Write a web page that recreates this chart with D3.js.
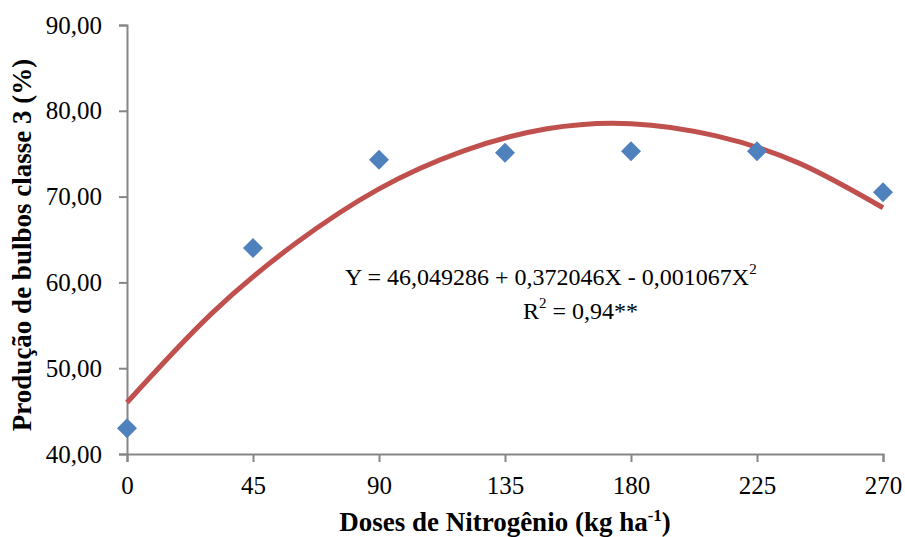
<!DOCTYPE html>
<html>
<head>
<meta charset="utf-8">
<script src="https://cdn.jsdelivr.net/npm/d3@7"></script>
<style>
  body { margin: 0; background: #fff; }
  text { font-family: "Liberation Serif", "Times New Roman", serif; fill: #000; }
</style>
</head>
<body>
<script>
// data
var doses = [0, 45, 90, 135, 180, 225, 270];
var producao = [43.0, 64.0, 74.3, 75.1, 75.3, 75.3, 70.5];
// trend line (quadratic fit) read at regular doses
var trendDoses = [0, 30, 60, 90, 120, 150, 180, 210, 240, 270];
var trendVals = [46.0, 56.3, 64.5, 70.9, 75.3, 77.9, 78.5, 77.1, 73.9, 68.7];
var yTicks = [40, 50, 60, 70, 80, 90];

// chart size
var margin = {top: 25, right: 22, bottom: 83, left: 127},
    width = 905 - margin.left - margin.right,
    height = 537 - margin.top - margin.bottom;

var xScale = d3.scaleLinear().domain([0, 270]).range([0, width]),
    yScale = d3.scaleLinear().domain([40, 90]).range([height, 0]);

var fmt = function(d) { return d3.format(".2f")(d).replace(".", ","); };

var svg = d3.select("body").append("svg")
    .attr("width", 905)
    .attr("height", 537);

svg.append("rect").attr("width", 905).attr("height", 537).attr("fill", "#fff");

var g = svg.append("g")
    .attr("transform", "translate(" + margin.left + "," + margin.top + ")");

// x axis
var xAxis = g.append("g")
    .attr("transform", "translate(0," + height + ")")
    .call(d3.axisBottom(xScale).tickValues(doses).tickSizeOuter(0).tickSize(8).tickPadding(14));
// y axis
var yAxis = g.append("g")
    .call(d3.axisLeft(yScale).tickValues(yTicks).tickFormat(fmt).tickSizeOuter(0).tickSize(8).tickPadding(17));

[xAxis, yAxis].forEach(function(a) {
    a.selectAll("path, line").attr("stroke", "#868686").attr("stroke-width", 2);
    a.selectAll("text").attr("font-size", 25).attr("font-family", "Liberation Serif").attr("fill", "#000");
});

// trend line
var line = d3.line()
    .x(function(d, i) { return xScale(trendDoses[i]); })
    .y(function(d) { return yScale(d); })
    .curve(d3.curveNatural);

g.append("path")
    .datum(trendVals)
    .attr("d", line)
    .attr("fill", "none")
    .attr("stroke", "#C0504D")
    .attr("stroke-width", 5);

// points
g.selectAll(".dot")
    .data(producao)
  .enter().append("path")
    .attr("class", "dot")
    .attr("d", d3.symbol().type(d3.symbolSquare).size(200))
    .attr("transform", function(d, i) {
        return "translate(" + xScale(doses[i]) + "," + yScale(d) + ") rotate(45)";
    })
    .attr("fill", "#4F81BD");

// equation
var eq = svg.append("text").attr("x", 345).attr("y", 285).attr("font-size", 24);
eq.append("tspan").text("Y = 46,049286 + 0,372046X - 0,001067X");
eq.append("tspan").attr("font-size", 15).attr("dy", -11).text("2");

var r2 = svg.append("text").attr("x", 523).attr("y", 319).attr("font-size", 24);
r2.append("tspan").text("R");
r2.append("tspan").attr("font-size", 15).attr("dy", -11).text("2");
r2.append("tspan").attr("dy", 11).text(" = 0,94**");

// axis titles
var xt = svg.append("text")
    .attr("x", 505)
    .attr("y", 531)
    .attr("text-anchor", "middle")
    .attr("font-size", 27)
    .attr("font-weight", "bold");
xt.append("tspan").text("Doses de Nitrogênio (kg ha");
xt.append("tspan").attr("font-size", 17).attr("dy", -10).text("-1");
xt.append("tspan").attr("dy", 10).text(")");

svg.append("text")
    .attr("transform", "translate(31,245) rotate(-90)")
    .attr("text-anchor", "middle")
    .attr("font-size", 27)
    .attr("font-weight", "bold")
    .text("Produção de bulbos classe 3 (%)");
</script>
</body>
</html>
